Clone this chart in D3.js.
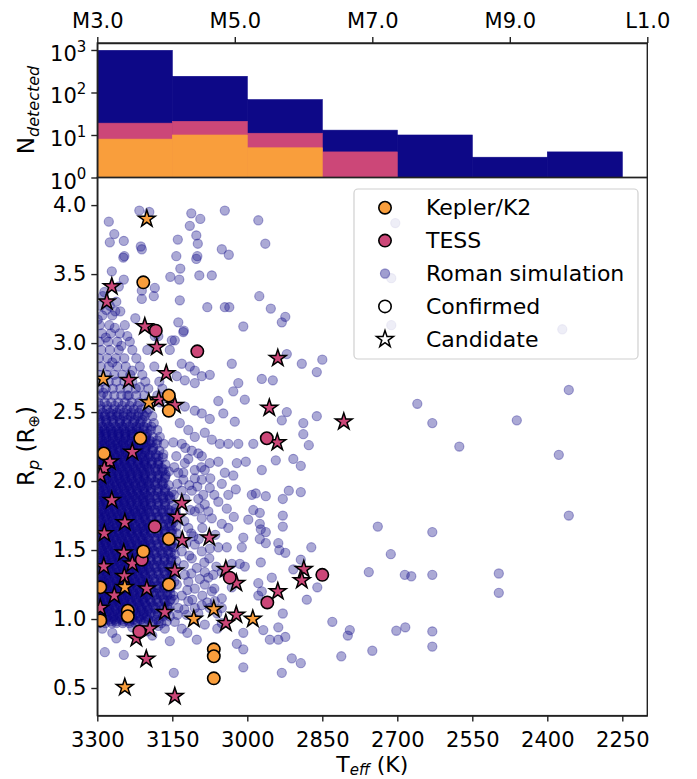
<!DOCTYPE html>
<html>
<head>
<meta charset="utf-8">
<script src="https://cdn.jsdelivr.net/npm/d3@7"></script>
<style>
body { margin: 0; background: #fff; }
svg text { font-family: "DejaVu Sans", sans-serif; fill: #000; }
</style>
</head>
<body>
<div class="content"></div>
<script>
// ---- data ----
var histBinEdges = [3300, 3150, 3000, 2850, 2700, 2550, 2400, 2250];
var histRoman  = [980, 240, 68, 13, 10, 3, 4];
var histTess   = [19, 21, 11, 4, 0, 0, 0];
var histKepler = [8, 10, 5, 0, 0, 0, 0];

var spectralTicks  = [3, 5, 7, 9, 11];
var spectralLabels = ['M3.0', 'M5.0', 'M7.0', 'M9.0', 'L1.0'];
var teffTicks  = [3300, 3150, 3000, 2850, 2700, 2550, 2400, 2250];
var rpTicks    = [0.5, 1.0, 1.5, 2.0, 2.5, 3.0, 3.5, 4.0];
var countTicks = [1, 10, 100, 1000];

var legendLabels = ['Kepler/K2', 'TESS', 'Roman simulation', 'Confirmed', 'Candidate'];

// [Teff, Rp]
var keplerConfirmed = [[3208,3.44],[3157,2.62],[3157,2.51],[3214,2.31],[3287,2.20],[3157,1.58],[3208,1.49],
  [3157,1.25],[3294,1.23],[3239,1.06],[3239,1.02],[3294,0.99],[3067,0.78],[3067,0.73],[3067,0.57]];
var keplerCandidate = [[3201,3.90],[3288,2.74],[3197,2.57],[3245,1.23],[3107,1.00],[3067,1.07],[2989,1.00],[3245,0.505]];
var tessConfirmed = [[3183,3.09],[3100,2.94],[2961,2.31],[3185,1.67],[3211,1.43],[3035,1.30],[2960,1.12],[2850,1.32],[3216,0.91]];
var tessCandidate = [[3271,3.41],[3281,3.30],[3205,3.12],[3181,2.97],[2939,2.89],[3237,2.73],[3162,2.78],[3177,2.59],
  [3145,2.55],[2956,2.53],[2940,2.28],[2807,2.43],[3230,2.21],[3275,2.14],[3286,2.09],[3294,2.04],[3271,1.86],
  [3131,1.84],[3140,1.74],[3245,1.70],[3286,1.62],[3130,1.57],[3076,1.59],[3247,1.48],[3230,1.40],[3287,1.38],
  [3145,1.35],[3043,1.36],[3022,1.26],[3246,1.31],[3201,1.22],[3266,1.17],[2939,1.20],[3294,1.08],[3165,1.05],
  [3022,1.03],[3043,0.97],[3195,0.93],[3222,0.86],[3202,0.71],[3145,0.44],[2887,1.36],[2891,1.28]];

// Roman simulation, saturated core: [Rp, [Teff ...]]
var romanCore = [
  [0.97,[3296,3284,3271,3262,3249,3236,3224,3208,3190,3172]],
  [0.9825,[3299,3288,3273,3262,3247,3236,3220,3207,3189,3177,3161]],
  [0.995,[3290,3277,3265,3252,3240,3227,3213,3198,3181]],
  [1.0075,[3294,3281,3268,3256,3243,3230,3217,3204]],
  [1.02,[3292,3280,3268,3255,3243,3230,3216,3201,3186,3168,3155]],
  [1.0325,[3297,3286,3275,3260,3250,3235,3223,3208,3196,3179,3166]],
  [1.045,[3295,3283,3271,3259,3246,3234,3221,3207,3193,3178,3163]],
  [1.0575,[3291,3279,3266,3253,3241,3228,3214,3201]],
  [1.07,[3298,3288,3276,3263,3250,3238,3226,3212,3198,3184,3171,3158]],
  [1.0825,[3299,3285,3276,3263,3249,3238,3223,3211,3195,3183,3167,3156]],
  [1.095,[3290,3279,3266,3254,3241,3228,3215,3201,3188,3174,3160]],
  [1.1075,[3293,3282,3269,3255,3244,3231,3216,3203]],
  [1.12,[3294,3283,3270,3258,3246,3233,3219,3205,3192,3178,3164]],
  [1.1325,[3296,3287,3272,3262,3247,3237,3222,3210,3194,3182,3166,3155]],
  [1.145,[3296,3284,3272,3260,3247,3235,3222,3208,3195,3181,3167,3153]],
  [1.1575,[3294,3281,3268,3256,3243,3230,3217,3204]],
  [1.17,[3299,3287,3275,3264,3251,3239,3227,3214,3200,3186,3173,3160,3148]],
  [1.1825,[3299,3286,3276,3261,3251,3236,3225,3209,3197,3181,3169,3154]],
  [1.195,[3290,3278,3266,3253,3241,3228,3215,3202,3188,3175,3161]],
  [1.2075,[3291,3279,3266,3253,3241,3228,3214,3201]],
  [1.22,[3293,3281,3269,3256,3244,3232,3219,3206,3193,3180,3167,3154]],
  [1.2325,[3297,3287,3272,3262,3247,3236,3221,3209,3193,3181,3165,3153]],
  [1.245,[3295,3283,3271,3259,3246,3234,3221,3208,3194,3180,3166,3152]],
  [1.2575,[3293,3282,3269,3255,3244,3231,3216,3203]],
  [1.27,[3297,3286,3274,3262,3250,3237,3225,3211,3199,3185,3172,3158,3146]],
  [1.2825,[3299,3286,3276,3261,3251,3236,3224,3209,3197,3181,3169,3153]],
  [1.295,[3289,3277,3265,3252,3240,3227,3214,3200,3187,3173,3159]],
  [1.3075,[3294,3281,3268,3256,3243,3230,3217,3204]],
  [1.32,[3292,3280,3268,3255,3243,3230,3218,3204,3190,3177,3163,3150]],
  [1.3325,[3297,3287,3272,3262,3247,3236,3221,3209,3194,3182,3166,3154]],
  [1.345,[3295,3283,3271,3258,3246,3233,3220,3207,3193,3179,3165,3151]],
  [1.3575,[3291,3279,3266,3253,3241,3228,3214,3201]],
  [1.37,[3298,3285,3273,3261,3248,3236,3223,3210,3197,3183,3170,3156,3143]],
  [1.3825,[3299,3286,3276,3261,3251,3236,3225,3209,3197,3181,3169,3153]],
  [1.395,[3290,3278,3266,3253,3241,3228,3214,3201,3187,3174,3160]],
  [1.4075,[3293,3282,3269,3255,3244,3231,3216,3203]],
  [1.42,[3294,3282,3269,3257,3245,3232,3219,3206,3193,3180,3166,3152]],
  [1.4325,[3297,3287,3272,3262,3247,3236,3221,3209,3193,3181,3165,3153]],
  [1.445,[3296,3284,3271,3259,3246,3234,3221,3207,3194,3180,3166,3152]],
  [1.4575,[3294,3281,3268,3256,3243,3230,3217,3204]],
  [1.47,[3297,3286,3274,3262,3249,3237,3225,3212,3198,3185,3171,3158,3145]],
  [1.4825,[3299,3286,3276,3261,3251,3236,3224,3208,3197,3181,3169,3153]],
  [1.495,[3290,3278,3265,3253,3240,3227,3214,3200,3187,3173,3159]],
  [1.5075,[3291,3279,3266,3253,3241,3228,3214,3201]],
  [1.52,[3293,3281,3269,3256,3244,3231,3218,3204,3191,3178,3164,3150]],
  [1.5325,[3297,3287,3272,3262,3247,3236,3221,3209,3194,3182,3166,3154]],
  [1.545,[3295,3283,3271,3258,3246,3233,3220,3206,3193,3179,3165,3151]],
  [1.5575,[3293,3282,3269,3255,3244,3231,3216,3203]],
  [1.57,[3298,3286,3274,3262,3250,3237,3224,3211,3197,3184,3170,3157,3143]],
  [1.5825,[3299,3286,3276,3261,3251,3236,3225,3209,3197,3181,3169,3153]],
  [1.595,[3289,3277,3265,3252,3240,3227,3213,3200,3186,3172,3158]],
  [1.6075,[3294,3281,3268,3256,3243,3230,3217,3204]],
  [1.62,[3294,3282,3270,3257,3245,3232,3220,3206,3192,3179,3165,3151]],
  [1.6325,[3297,3287,3272,3262,3247,3236,3220,3209,3193,3181,3165,3153]],
  [1.645,[3295,3283,3271,3258,3245,3233,3220,3206,3192,3178,3164,3150]],
  [1.6575,[3291,3279,3266,3253,3241,3228,3214,3201]],
  [1.67,[3297,3285,3273,3261,3248,3236,3223,3209,3196,3182,3168,3155,3142]],
  [1.6825,[3299,3286,3276,3261,3251,3236,3224,3208,3196,3180,3168,3152]],
  [1.695,[3290,3278,3265,3253,3240,3227,3213,3199,3185,3171,3157]],
  [1.7075,[3293,3282,3269,3255,3244,3231,3216,3203]],
  [1.72,[3292,3280,3268,3256,3243,3231,3217,3204,3190,3176,3162,3149]],
  [1.7325,[3297,3287,3272,3262,3247,3236,3221,3209,3193,3181,3165,3153]],
  [1.745,[3296,3284,3271,3259,3246,3233,3220,3206,3192,3178,3164,3150]],
  [1.7575,[3294,3281,3268,3256,3243,3230,3217,3204]],
  [1.77,[3298,3286,3274,3261,3249,3236,3224,3211,3197,3183,3170,3156,3143]],
  [1.7825,[3299,3286,3276,3261,3251,3236,3224,3208,3196,3180,3168,3152]],
  [1.795,[3290,3278,3265,3253,3240,3227,3213,3200,3186,3172,3158]],
  [1.8075,[3291,3279,3266,3253,3241,3228,3214,3201]],
  [1.82,[3293,3281,3269,3257,3244,3232,3219,3205,3192,3178,3164,3151]],
  [1.8325,[3297,3287,3272,3262,3247,3236,3221,3209,3193,3181,3165]],
  [1.845,[3295,3283,3271,3258,3246,3233,3219,3206,3192,3178,3164]],
  [1.8575,[3293,3282,3269,3255,3244,3231,3216,3203]],
  [1.87,[3297,3285,3273,3260,3248,3235,3222,3209,3195,3182,3168,3155]],
  [1.8825,[3299,3286,3276,3261,3251,3236,3224,3208,3196,3180,3168,3154]],
  [1.895,[3290,3278,3266,3253,3241,3228,3214,3200,3186,3172,3158]],
  [1.9075,[3294,3281,3268,3256,3243,3230,3217,3204]],
  [1.92,[3294,3282,3270,3258,3245,3233,3220,3206,3193,3179,3165,3151]],
  [1.9325,[3297,3287,3272,3262,3247,3236,3221,3209,3193,3181,3165]],
  [1.945,[3296,3284,3271,3259,3246,3233,3220,3206,3192,3178,3164]],
  [1.9575,[3291,3279,3266,3253,3241,3228,3214,3201]],
  [1.97,[3298,3286,3274,3262,3249,3237,3224,3211,3197,3184,3170,3157]],
  [1.9825,[3299,3286,3276,3261,3251,3236,3224,3208,3196,3180,3168]],
  [1.995,[3290,3278,3265,3253,3240,3227,3213,3199,3185,3171]],
  [2.0075,[3293,3282,3269,3255,3244,3231,3216,3203]],
  [2.02,[3293,3281,3269,3257,3244,3232,3219,3206,3192,3179,3165]],
  [2.0325,[3297,3287,3272,3262,3247,3236,3220,3208,3192,3180,3164]],
  [2.045,[3295,3283,3271,3258,3246,3233,3219,3205,3191,3177,3163]],
  [2.0575,[3294,3281,3268,3256,3243,3230,3217,3204]],
  [2.07,[3297,3285,3273,3261,3248,3236,3223,3210,3196,3183,3170,3157]],
  [2.0825,[3299,3286,3276,3261,3250,3235,3223,3207,3195,3179,3167]],
  [2.095,[3290,3278,3266,3253,3240,3227,3213,3199,3185,3171]],
  [2.1075,[3291,3279,3266,3253,3241,3228,3214,3201]],
  [2.12,[3294,3282,3270,3257,3245,3232,3219,3205,3192,3178,3164]],
  [2.1325,[3297,3287,3272,3261,3246,3235,3219,3207,3191,3179]],
  [2.145,[3296,3284,3271,3259,3246,3233,3219,3205,3191,3177]],
  [2.1575,[3293,3282,3269,3255,3244,3231,3216,3203]],
  [2.17,[3298,3286,3274,3262,3249,3236,3224,3210,3197,3183,3169]],
  [2.1825,[3299,3286,3275,3260,3249,3234,3222,3206,3194,3178]],
  [2.195,[3290,3278,3265,3252,3239,3226,3212,3197,3183,3168]],
  [2.2075,[3294,3281,3268,3256,3243,3230,3217,3204]],
  [2.22,[3293,3281,3269,3256,3244,3231,3218,3204,3190,3176]],
  [2.2325,[3297,3286,3271,3260,3245,3233,3217,3205,3189]],
  [2.245,[3295,3283,3270,3258,3245,3231,3217,3203,3188]],
  [2.2575,[3291,3279,3266,3253,3241,3228,3214,3201]],
  [2.27,[3297,3285,3273,3260,3248,3235,3222,3208,3195,3181,3167]],
  [2.2825,[3299,3285,3274,3259,3248,3232,3220,3204,3191]],
  [2.295,[3290,3277,3264,3251,3238,3224,3210,3195,3180]],
  [2.3075,[3293,3282,3269,3255,3244,3231,3216,3203]],
  [2.32,[3294,3282,3269,3257,3244,3231,3217,3203,3189,3175]],
  [2.3325,[3297,3286,3271,3259,3244,3232,3215,3202]],
  [2.345,[3296,3283,3270,3257,3244,3230,3215,3200]],
  [2.3575,[3294,3281,3268,3256,3243,3230,3217]],
  [2.37,[3298,3286,3273,3261,3248,3235,3221,3207,3193,3180]],
  [2.3825,[3299,3285,3273,3258,3246,3230,3217,3200]],
  [2.395,[3290,3277,3264,3250,3236,3222,3207,3192]],
  [2.42,[3293,3281,3268,3255,3242,3229,3215,3201,3187]],
  [2.4325,[3297,3283,3271,3255,3243,3226,3213]],
  [2.445,[3295,3282,3268,3254,3240,3225,3210]],
  [2.47,[3297,3285,3272,3260,3247,3233,3219,3205,3190]],
  [2.4825,[3299,3284,3270,3257,3240,3227,3209]],
  [2.495,[3289,3275,3261,3247,3232,3217,3201]],
  [2.52,[3294,3281,3268,3255,3241,3227,3212,3197]],
  [2.545,[3294,3280,3265,3250,3235,3219]],
  [2.57,[3298,3285,3272,3258,3245,3231,3216,3200,3175]],
  [2.62,[3293,3280,3266,3252,3237,3222,3206,3180]],
  [2.67,[3297,3283,3269,3254,3239,3223,3198,3170]],
  [2.72,[3292,3277,3262,3246,3230,3204,3176]],
  [2.77,[3296,3281,3266,3250,3234,3210]],
  [2.83,[3293,3277,3260,3243,3215,3186]],
  [2.89,[3297,3280,3263,3246,3222]],
  [2.95,[3292,3275,3257,3230,3200]],
  [3.01,[3296,3278,3260,3235]],
  [3.07,[3291,3273,3255]],
  [3.13,[3295,3276,3245]],
  [3.20,[3290,3270]],
  [3.27,[3294,3275]],
  [3.34,[3289]]
];

// Roman simulation, individual points outside the core: [Teff, Rp]
var romanPoints = [
  // next to the core
  [3148,2.28],[3142,2.18],[3146,2.10],[3140,1.98],[3147,1.90],[3143,1.80],[3148,1.70],[3141,1.62],[3146,1.52],
  [3142,1.42],[3147,1.34],[3141,1.25],[3146,1.14],[3140,1.03],[3124,2.24],[3118,2.16],[3128,2.06],[3116,1.97],
  [3124,1.87],[3114,1.79],[3126,1.71],[3112,1.62],[3122,1.55],[3116,1.46],[3127,1.39],[3112,1.33],[3120,1.21],
  [3110,1.14],[3126,1.07],[3098,2.20],[3092,2.10],[3100,1.96],[3088,1.90],[3096,1.80],[3090,1.66],[3097,1.58],
  [3086,1.41],[3095,1.29],[3090,1.17],[3098,1.04],[3074,2.02],[3066,1.90],[3078,1.78],[3064,1.61],[3076,1.44],
  [3062,1.38],[3078,1.30],[3066,1.22],[3080,1.12],[3060,1.04],
  [3288,2.64],[3270,2.86],[3252,2.98],[3283,3.04],[3265,3.11],[3240,3.05],[3299,3.17],[3282,3.24],[3262,3.30],
  [3286,3.37],[3230,2.80],[3215,2.68],[3240,2.62],
  // medium zone below Rp 2
  [3128,2.01],[3105,2.02],[3091,2.01],[3075,1.95],[3051,1.98],[3038,1.90],[3131,1.93],[3111,1.93],[3098,1.87],
  [3085,1.83],[3058,1.85],[3041,1.80],[3105,1.78],[3091,1.73],[3071,1.73],[3051,1.69],[3038,1.66],[3118,1.66],
  [3108,1.60],[3105,1.54],[3091,1.49],[3075,1.51],[3058,1.52],[3041,1.52],[3131,1.49],[3111,1.44],[3101,1.37],
  [3085,1.34],[3068,1.32],[3051,1.34],[3125,1.32],[3118,1.27],[3105,1.22],[3085,1.25],[3071,1.20],[3065,1.13],
  [3051,1.15],[3131,1.17],[3118,1.13],[3105,1.08],[3091,1.10],[3075,1.08],[3051,1.08],[3138,1.08],[3121,1.03],
  [3105,1.00],[3085,0.96],[3051,0.97],[3145,0.98],[3165,0.93],[3131,0.93],
  // medium zone Rp 2-3.1
  [3145,3.02],[3128,3.08],[3155,2.95],[3131,2.85],[3115,2.83],[3105,2.80],[3141,2.76],[3125,2.73],[3105,2.71],
  [3091,2.76],[3075,2.77],[3031,2.85],[3018,2.71],[3028,2.65],[3005,2.59],[3058,2.58],[3048,2.49],[3025,2.43],
  [3075,2.45],[3091,2.49],[3105,2.51],[3125,2.54],[3135,2.42],[3118,2.37],[3105,2.32],[3085,2.35],[3071,2.30],
  [3055,2.27],[3038,2.27],[2971,2.74],[3151,3.02],[3178,3.05],[3131,2.27],[3111,2.22],[3091,2.18],[3075,2.13],
  [3058,2.14],[3045,2.06],[3125,2.13],[3105,2.08],[3085,2.08],[3138,2.06],
  // 3035-2940 K
  [3018,2.27],[2988,2.27],[3021,2.13],[3003,2.14],[2971,2.08],[2943,2.15],[3028,2.04],[3023,1.94],[2991,1.90],
  [2983,1.91],[2963,1.89],[2988,1.79],[2975,1.77],[3027,1.74],[2998,1.72],[2975,1.69],[2973,1.65],[2963,1.63],
  [3008,1.59],[2975,1.58],[3011,1.52],[2963,1.55],[2938,1.55],[2936,1.50],[3031,1.40],[3015,1.40],[3005,1.38],
  [2973,1.41],[2951,1.30],[2978,1.26],[2971,1.20],[2978,1.17],[3031,1.23],[3008,0.90],[2955,0.85],[2938,0.94],
  // low radii
  [3285,0.76],[3247,0.74],[3155,0.84],[3147,0.61],[3101,0.85],[3021,0.82],[3008,0.78],[2968,0.92],[2938,0.85],
  [3008,0.65],[3290,0.93],[3270,0.90],[3230,0.94],[3200,0.91],[3178,0.95],[3262,0.86],[3120,0.90],[3060,0.93],[3190,0.88],
  // upper region
  [3216,3.96],[3196,3.95],[3277,3.88],[3112,3.94],[3045,3.96],[2978,3.89],[3115,3.85],[3094,3.90],[3266,3.79],
  [3275,3.73],[3247,3.74],[3102,3.78],[3099,3.72],[3139,3.75],[3213,3.70],[3211,3.68],[3246,3.63],[3248,3.62],
  [3142,3.63],[3102,3.61],[3100,3.63],[3051,3.68],[3037,3.64],[2964,3.72],[3271,3.52],[3134,3.54],[3154,3.48],
  [3136,3.46],[3096,3.49],[3071,3.49],[3247,3.46],[3257,3.41],[3185,3.40],[3187,3.34],[3211,3.38],[3211,3.32],
  [3135,3.31],[3080,3.26],[3045,3.26],[3036,3.26],[2976,3.34],[2953,3.25],[3224,3.18],[3254,3.23],[3264,3.23],
  [3138,3.15],[3127,3.09],[3008,3.12],[2931,3.15],[2924,3.19],[3185,3.05],
  // cooler side
  [2949,2.73],[2921,2.92],[2891,2.85],[2861,2.79],[2850,2.88],[2921,2.50],[2931,2.44],[2888,2.42],[2888,2.34],
  [2861,2.47],[2877,2.26],[2660,2.56],[2630,2.42],[2576,2.25],[2704,3.87],[2724,3.50],[2712,3.47],[2712,3.13],
  [2370,3.10],[2908,2.16],[2893,2.11],[2917,1.93],[2893,1.92],[2929,1.87],[2929,1.75],[2929,1.67],[2739,1.67],
  [2630,1.63],[2872,1.52],[2924,1.48],[2713,1.47],[2893,1.43],[2908,1.36],[2757,1.34],[2685,1.32],[2672,1.31],
  [2630,1.32],[2860,1.23],[2881,1.14],[2929,1.04],[2924,0.87],[2830,0.98],[2795,0.92],[2799,0.88],[2702,0.915],
  [2684,0.94],[2630,0.91],[2630,0.80],[2812,0.73],[2750,0.77],[2911,0.715],[2893,0.68],[2931,0.61],
  [2357,2.66],[2461,2.44],[2377,2.19],[2357,1.75],[2497,1.33],[2497,1.19]
];

// ---- layout ----
var size = {width: 697, height: 779};
var plotL = 97.3, plotR = 647.3;
var histT = 43, histB = 177.5, scatB = 715.6;
var navy = '#0d0887', magenta = '#cc4778', orange = '#f99e3c';
var axisColor = '#222';
var romanAlpha = 0.35;

var svg = d3.select('.content').append('svg')
    .attr('width', size.width).attr('height', size.height);

var x = d3.scaleLinear().domain([3300, 2200]).range([plotL, plotR]);
var xSpec = d3.scaleLinear().domain([3, 11]).range([plotL, plotR]);
var yHist = d3.scaleLog().domain([1, 1460]).range([histB, histT]);
var y = d3.scaleLinear().domain([0.3, 4.2]).range([scatB, histB]);

// ---- histogram panel ----
var hist = svg.append('g');
[[histRoman, navy], [histTess, magenta], [histKepler, orange]].forEach(function(s) {
    var bins = s[0].map(function(c, i) { return {c: c, i: i}; }).filter(function(d) { return d.c >= 1; });
    hist.selectAll(null).data(bins).enter().append('rect')
        .attr('x', function(d) { return x(histBinEdges[d.i]); })
        .attr('width', function(d) { return x(histBinEdges[d.i + 1]) - x(histBinEdges[d.i]); })
        .attr('y', function(d) { return yHist(d.c); })
        .attr('height', function(d) { return yHist(1) - yHist(d.c); })
        .attr('fill', s[1]).attr('stroke', s[1]).attr('stroke-width', 0.6);
});

function styleAxis(g, fs) {
    g.attr('font-family', null).attr('font-size', null);
    g.selectAll('path, line').attr('stroke', axisColor).attr('stroke-width', 1.4);
    g.selectAll('text').attr('fill', '#000').style('font-size', fs + 'px');
}

var specAxis = svg.append('g').attr('transform', 'translate(0,' + histT + ')')
    .call(d3.axisTop(xSpec).tickValues(spectralTicks)
        .tickFormat(function(d, i) { return spectralLabels[i]; })
        .tickSize(6).tickSizeOuter(0).tickPadding(9));
styleAxis(specAxis, 21);

var countAxis = svg.append('g').attr('transform', 'translate(' + plotL + ',0)')
    .call(d3.axisLeft(yHist).tickValues(countTicks).tickFormat(function() { return '10'; })
        .tickSize(6).tickSizeOuter(0).tickPadding(5));
styleAxis(countAxis, 21);
countAxis.selectAll('.tick text').each(function(d) {
    var t = d3.select(this).attr('dy', '0.5em');
    t.append('tspan').attr('dy', '-0.62em').style('font-size', '15px').text(Math.round(Math.log10(d)));
});

svg.append('rect').attr('x', plotL).attr('y', histT).attr('width', plotR - plotL).attr('height', histB - histT)
    .attr('fill', 'none').attr('stroke', axisColor).attr('stroke-width', 1.4);

// ---- scatter panel ----
svg.append('clipPath').attr('id', 'clipper').append('rect')
    .attr('x', plotL).attr('y', histB).attr('width', plotR - plotL).attr('height', scatB - histB);
var plot = svg.append('g').attr('clip-path', 'url(#clipper)');

var roman = [];
romanCore.forEach(function(row) { row[1].forEach(function(t) { roman.push([t, row[0]]); }); });
roman = roman.concat(romanPoints);

plot.selectAll('circle.roman').data(roman).enter().append('circle')
    .attr('class', 'roman')
    .attr('cx', function(d) { return x(d[0]); })
    .attr('cy', function(d) { return y(d[1]); })
    .attr('r', 4.6)
    .attr('fill', navy).attr('fill-opacity', romanAlpha)
    .attr('stroke', navy).attr('stroke-opacity', romanAlpha).attr('stroke-width', 1.1);

var star = d3.symbol().type(d3.symbolStar).size(88);

function drawCircles(data, color) {
    plot.selectAll(null).data(data).enter().append('circle')
        .attr('cx', function(d) { return x(d[0]); })
        .attr('cy', function(d) { return y(d[1]); })
        .attr('r', 6.2).attr('fill', color).attr('stroke', '#000').attr('stroke-width', 1.6);
}
function drawStars(data, color) {
    plot.selectAll(null).data(data).enter().append('path')
        .attr('d', star)
        .attr('transform', function(d) { return 'translate(' + x(d[0]) + ',' + y(d[1]) + ')'; })
        .attr('fill', color).attr('stroke', '#000').attr('stroke-width', 1.5);
}
drawStars(tessCandidate, magenta);
drawCircles(tessConfirmed, magenta);
drawStars(keplerCandidate, orange);
drawCircles(keplerConfirmed, orange);

var teffAxis = svg.append('g').attr('transform', 'translate(0,' + scatB + ')')
    .call(d3.axisBottom(x).tickValues(teffTicks).tickFormat(d3.format('d'))
        .tickSize(6).tickSizeOuter(0).tickPadding(10));
styleAxis(teffAxis, 21);

var rpAxis = svg.append('g').attr('transform', 'translate(' + plotL + ',0)')
    .call(d3.axisLeft(y).tickValues(rpTicks).tickFormat(d3.format('.1f'))
        .tickSize(6).tickSizeOuter(0).tickPadding(5));
styleAxis(rpAxis, 21);

svg.append('rect').attr('x', plotL).attr('y', histB).attr('width', plotR - plotL).attr('height', scatB - histB)
    .attr('fill', 'none').attr('stroke', axisColor).attr('stroke-width', 1.4);

// ---- legend ----
var leg = svg.append('g');
leg.append('rect').attr('x', 354).attr('y', 189).attr('width', 284).attr('height', 170).attr('rx', 4)
    .attr('fill', '#fff').attr('fill-opacity', 0.8).attr('stroke', '#d0d0d0').attr('stroke-width', 1.2);
var items = leg.selectAll('g.item').data(legendLabels).enter().append('g')
    .attr('transform', function(d, i) { return 'translate(385,' + (207.7 + i * 32.9) + ')'; });
items.append('text').attr('x', 41).attr('dy', '0.35em').style('font-size', '22px').text(function(d) { return d; });
items.each(function(d, i) {
    var g = d3.select(this);
    if (i === 0 || i === 1 || i === 3) {
        g.append('circle').attr('r', 6.2).attr('fill', i === 0 ? orange : (i === 1 ? magenta : '#fff'))
            .attr('stroke', '#000').attr('stroke-width', 1.6);
    } else if (i === 2) {
        g.append('circle').attr('r', 4.6).attr('fill', navy).attr('fill-opacity', romanAlpha)
            .attr('stroke', navy).attr('stroke-opacity', romanAlpha).attr('stroke-width', 1.1);
    } else {
        g.append('path').attr('d', star).attr('fill', '#fff').attr('stroke', '#000').attr('stroke-width', 1.5);
    }
});

// ---- axis labels ----
var lblN = svg.append('text').attr('transform', 'translate(34,110) rotate(-90)')
    .attr('text-anchor', 'middle').style('font-size', '23px');
lblN.append('tspan').text('N');
lblN.append('tspan').attr('dy', 5).style('font-size', '16px').style('font-style', 'italic').text('detected');

var lblR = svg.append('text').attr('transform', 'translate(34,446) rotate(-90)')
    .attr('text-anchor', 'middle').style('font-size', '23px');
lblR.append('tspan').text('R');
lblR.append('tspan').attr('dy', 5).style('font-size', '16px').style('font-style', 'italic').text('p');
lblR.append('tspan').attr('dy', -5).text(' (R');
lblR.append('tspan').attr('dy', 5).style('font-size', '15px').text('\u2295');
lblR.append('tspan').attr('dy', -5).text(')');

var lblT = svg.append('text').attr('x', (plotL + plotR) / 2).attr('y', 772)
    .attr('text-anchor', 'middle').style('font-size', '22px');
lblT.append('tspan').text('T');
lblT.append('tspan').attr('dy', 3).style('font-size', '15px').style('font-style', 'italic').text('eff');
lblT.append('tspan').attr('dy', -3).text(' (K)');
</script>
</body>
</html>
